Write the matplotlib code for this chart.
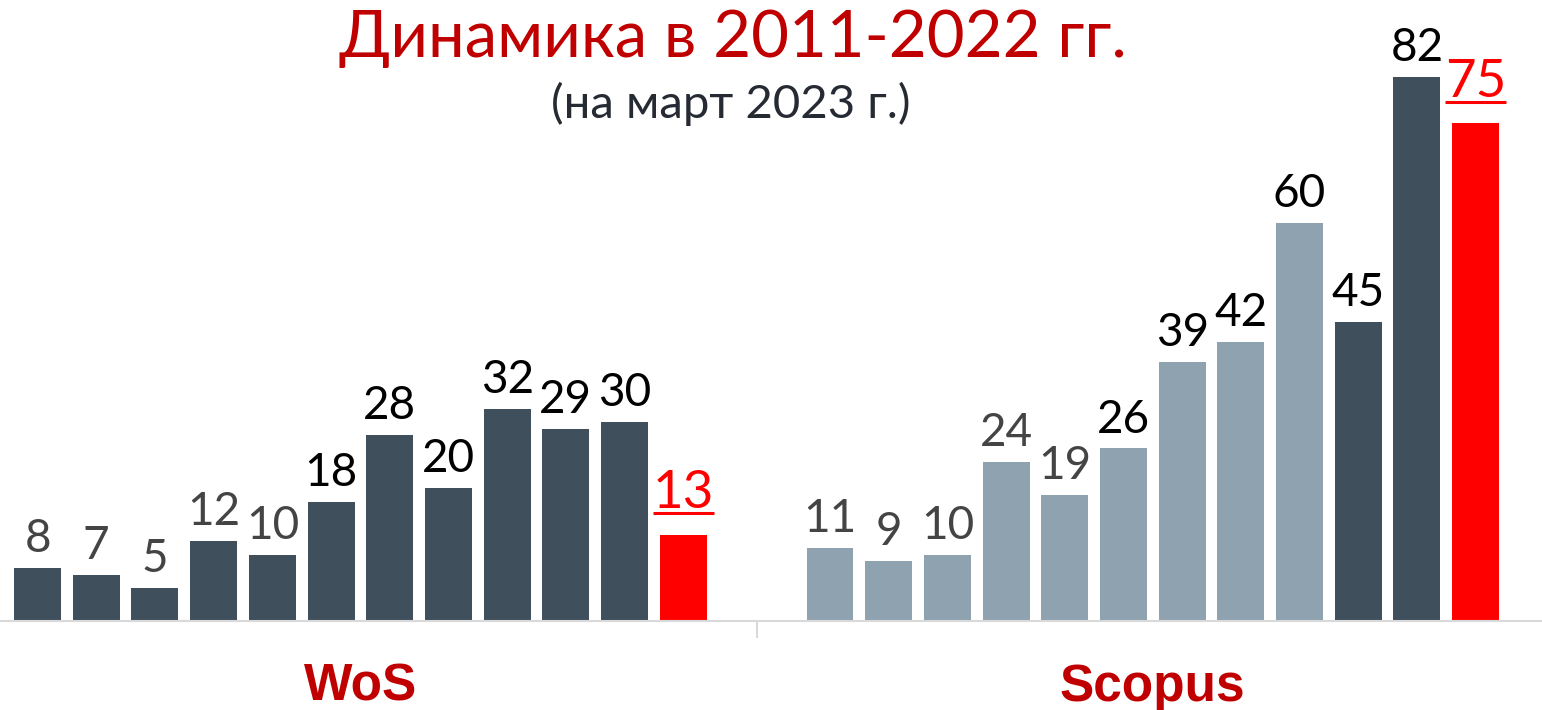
import matplotlib
matplotlib.use("Agg")
import matplotlib.pyplot as plt
from matplotlib.lines import Line2D
import numpy as np

plt.rcParams['font.family'] = ['Lato', 'DejaVu Sans']

# data
groups = ["WoS", "Scopus"]
wos = [8, 7, 5, 12, 10, 18, 28, 20, 32, 29, 30, 13]
scopus = [11, 9, 10, 24, 19, 26, 39, 42, 60, 45, 82, 75]
wos_colors = ["#404f5c"] * 11 + ["#ff0000"]
scopus_colors = ["#8fa2b0"] * 9 + ["#404f5c"] * 2 + ["#ff0000"]
label_colors = ["#444444"] * 5 + ["#000000"] * 6 + ["#ff0000"]

gap = 2.5
x_wos = np.arange(len(wos))
x_sco = np.arange(len(scopus)) + len(wos) - 1 + gap

fig = plt.figure(figsize=(15.42, 7.10), dpi=100)
ax = fig.add_axes([0, 0.1254, 1, 0.8746])

ax.bar(x_wos, wos, width=0.8, color=wos_colors)
ax.bar(x_sco, scopus, width=0.8, color=scopus_colors)

underlined = []
for xs, vals in ((x_wos, wos), (x_sco, scopus)):
    for i, (x, v) in enumerate(zip(xs, vals)):
        last = i == len(vals) - 1
        t = ax.annotate(str(v), (x, v), xytext=(0, 19 if last else 11.5),
                        textcoords='offset points', ha='center', va='baseline',
                        fontsize=38 if last else 33, color=label_colors[i])
        if last:
            underlined.append((t, x, v))

ax.set_xlim(-0.64, 25.63)
ax.set_ylim(0, 93.6)
ax.set_yticks([])
ax.set_xticks([(x_wos[0] + x_wos[-1]) / 2, (x_sco[0] + x_sco[-1]) / 2])
ax.set_xticklabels(groups, fontsize=37, fontweight='bold', color='#c00000',
                   family='Liberation Sans')
ax.tick_params(axis='x', which='major', length=0, pad=30)
ax.set_xticks([(x_wos[-1] + x_sco[0]) / 2], minor=True)
ax.tick_params(axis='x', which='minor', length=12, color='#d9d9d9', width=1.5)
for sp in ['top', 'left', 'right']:
    ax.spines[sp].set_visible(False)
ax.spines['bottom'].set_color('#d9d9d9')
ax.spines['bottom'].set_linewidth(1.5)

fig.text(0.475, 0.92, "Динамика в 2011-2022 гг.", ha='center', va='baseline',
         fontsize=47, color='#c00000')
fig.text(0.474, 0.834, "(на март 2023 г.)", ha='center', va='baseline',
         fontsize=34, color='#262b33')

# underline the last labels, just below their baseline
fig.canvas.draw()
for t, x, v in underlined:
    bb = t.get_window_extent()
    base = ax.transData.transform((x, v))[1] + 19 * fig.dpi / 72
    y = (base - 5) / fig.bbox.height
    fig.add_artist(Line2D([bb.x0 / fig.bbox.width, bb.x1 / fig.bbox.width],
                          [y, y], color='#ff0000', lw=2.2,
                          solid_capstyle='butt'))

fig.savefig("out.png", dpi=100)
